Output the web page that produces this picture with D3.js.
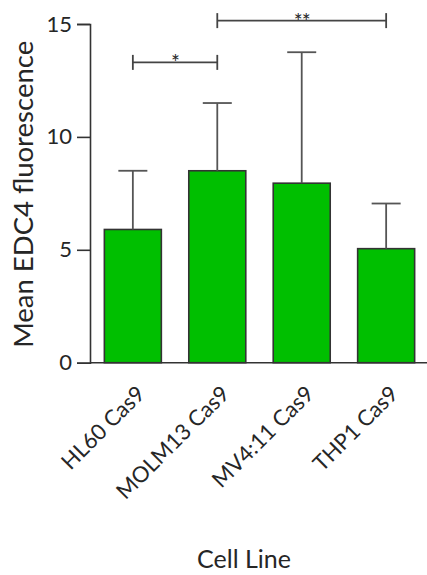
<!DOCTYPE html>
<html>
<head>
<meta charset="utf-8">
<script src="https://cdn.jsdelivr.net/npm/d3@7"></script>
<style>
  html, body { margin: 0; padding: 0; background: #fff; }
  svg { display: block; }
  text { font-family: Lato, "Open Sans", sans-serif; fill: #262626; }
</style>
</head>
<body>
<div id="chart"></div>
<script>
// Cell lines and mean EDC4 fluorescence with upper SD
const cellLines = ["HL60 Cas9", "MOLM13 Cas9", "MV4:11 Cas9", "THP1 Cas9"];
const meanValues = [5.9, 8.5, 7.95, 5.05];
const sdValues = [2.6, 3.0, 5.8, 2.0];
const yTicks = [0, 5, 10, 15];

// Pairwise significance annotations
const compFrom = ["HL60 Cas9", "MOLM13 Cas9"];
const compTo = ["MOLM13 Cas9", "THP1 Cas9"];
const compLevel = [13.3, 15.15];
const compLabel = ["*", "**"];

const width = 427, height = 575;
const plot = { left: 90, right: 429, top: 24, bottom: 362.7 };

const svg = d3.select("#chart").append("svg")
  .attr("width", width).attr("height", height);

const x = d3.scaleBand()
  .domain(cellLines)
  .range([plot.left, plot.right])
  .paddingInner(0.325)
  .paddingOuter(0.17);

const y = d3.scaleLinear()
  .domain([0, 15])
  .range([plot.bottom, plot.top]);

const data = cellLines.map((c, i) => ({ c, m: meanValues[i], sd: sdValues[i] }));
const axisColor = "#333";

// Bars
svg.append("g").selectAll("rect").data(data).join("rect")
  .attr("x", d => x(d.c))
  .attr("y", d => y(d.m))
  .attr("width", x.bandwidth())
  .attr("height", d => y(0) - y(d.m))
  .attr("fill", "#00bf00")
  .attr("stroke", "#333")
  .attr("stroke-width", 1.6);

// Error bars (upper only)
const capHalf = 14.5;
const err = svg.append("g").attr("stroke", "#555").attr("stroke-width", 1.8).attr("fill", "none");
err.selectAll("line.stem").data(data).join("line").attr("class", "stem")
  .attr("x1", d => x(d.c) + x.bandwidth() / 2)
  .attr("x2", d => x(d.c) + x.bandwidth() / 2)
  .attr("y1", d => y(d.m))
  .attr("y2", d => y(d.m + d.sd));
err.selectAll("line.cap").data(data).join("line").attr("class", "cap")
  .attr("x1", d => x(d.c) + x.bandwidth() / 2 - capHalf)
  .attr("x2", d => x(d.c) + x.bandwidth() / 2 + capHalf)
  .attr("y1", d => y(d.m + d.sd))
  .attr("y2", d => y(d.m + d.sd));

// Y axis
const yAxis = svg.append("g")
  .attr("transform", `translate(${plot.left},0)`)
  .call(d3.axisLeft(y).tickValues(yTicks).tickSize(13).tickPadding(5));
yAxis.select(".domain").attr("stroke", axisColor).attr("stroke-width", 1.6);
yAxis.selectAll(".tick line").attr("stroke", axisColor).attr("stroke-width", 1.6);
yAxis.selectAll(".tick text")
  .style("font-family", "Lato, sans-serif")
  .style("font-size", "22px")
  .attr("fill", "#262626");

// X axis
const xAxis = svg.append("g")
  .attr("transform", `translate(0,${plot.bottom})`)
  .call(d3.axisBottom(x).tickSize(0).tickPadding(0));
xAxis.select(".domain")
  .attr("d", `M${plot.left},0H${width}`)
  .attr("stroke", axisColor).attr("stroke-width", 1.6);
xAxis.selectAll(".tick text")
  .style("font-family", "Lato, sans-serif")
  .style("font-size", "22px")
  .attr("fill", "#262626")
  .attr("text-anchor", "end")
  .attr("dy", "0.35em")
  .attr("transform", "translate(8,27) rotate(-45)");

// Axis titles
svg.append("text")
  .attr("transform", `translate(33,${(plot.top + plot.bottom) / 2 + 1}) rotate(-90)`)
  .attr("text-anchor", "middle")
  .style("font-size", "27.5px")
  .text("Mean EDC4 fluorescence");

svg.append("text")
  .attr("x", 244).attr("y", 568)
  .attr("text-anchor", "middle")
  .style("font-size", "25px")
  .text("Cell Line");

// Significance brackets
const comps = compFrom.map((f, i) => ({ f, t: compTo[i], v: compLevel[i], s: compLabel[i] }));
const cx = c => x(c) + x.bandwidth() / 2;
const br = svg.append("g");
comps.forEach(d => {
  const x1 = cx(d.f), x2 = cx(d.t), yy = y(d.v);
  const g = br.append("g").attr("stroke", "#444").attr("stroke-width", 1.8);
  g.append("line").attr("x1", x1).attr("x2", x2).attr("y1", yy).attr("y2", yy);
  g.append("line").attr("x1", x1).attr("x2", x1).attr("y1", yy - 7.5).attr("y2", yy + 7.5);
  g.append("line").attr("x1", x2).attr("x2", x2).attr("y1", yy - 7.5).attr("y2", yy + 7.5);
  br.append("text")
    .attr("x", (x1 + x2) / 2).attr("y", yy + 8)
    .attr("text-anchor", "middle")
    .style("font-size", "21px")
    .style("letter-spacing", "-1px")
    .text(d.s);
});
</script>
</body>
</html>
